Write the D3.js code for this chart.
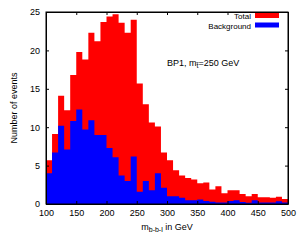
<!DOCTYPE html>
<html>
<head>
<meta charset="utf-8">
<script src="https://cdn.jsdelivr.net/npm/d3@7"></script>
<style>
  body { margin: 0; background: #fff; }
  svg { display: block; font-family: "Liberation Sans", Arial, sans-serif; }
  .axis text { font-size: 9px; fill: #000; }
  .axis path, .axis line { stroke: #000; }
</style>
</head>
<body>
<script>
const width = 300, height = 245
const margin = { top: 12, right: 12, bottom: 41, left: 46 }

// lower edges of the 10 GeV bins, 100..490
const binStart = d3.range(100, 500, 10)

// Total (signal + background), events per bin
const total = [5.7, 9.1, 14.1, 12.2, 16.8, 19.8, 18.8, 22.3, 21.2, 23.7,
    24.4, 24.7, 23.6, 22.3, 24.0, 15.7, 13.0, 10.6, 10.1, 6.7,
    5.7, 4.4, 3.7, 3.4, 3.2, 2.7, 2.8, 1.9, 2.3, 1.4,
    1.8, 1.8, 1.3, 1.0, 1.3, 0.87, 0.87, 0.8, 0.96, 0.65]

// Background only
const background = [4.0, 6.7, 10.2, 7.1, 10.8, 12.3, 9.7, 10.9, 9.0, 9.0,
    7.3, 6.1, 3.7, 3.0, 6.2, 1.6, 3.0, 1.8, 4.0, 2.1,
    1.0, 1.0, 0.8, 0.5, 0.5, 0.6, 0.4, 0.3, 0.2, 0.2,
    0.4, 0.5, 0.26, 0.17, 0.48, 0.2, 0.2, 0.2, 0.35, 0.2]

const xTicks = [100, 150, 200, 250, 300, 350, 400, 450, 500]
const yTicks = [0, 5, 10, 15, 20, 25]

const svg = d3.select("body").append("svg")
    .attr("width", width)
    .attr("height", height)

const x = d3.scaleLinear().domain([100, 500]).range([margin.left, width - margin.right])
const y = d3.scaleLinear().domain([0, 25]).range([height - margin.bottom, margin.top])

function steps(vals) {
    const pts = binStart.map((b, i) => [b, vals[i]])
    pts.push([500, vals[vals.length - 1]])
    return pts
}

const area = d3.area()
    .x(d => x(d[0]))
    .y0(y(0))
    .y1(d => y(d[1]))
    .curve(d3.curveStepAfter)

svg.append("path")
    .datum(steps(total))
    .attr("fill", "#ff0000")
    .attr("d", area)

svg.append("path")
    .datum(steps(background))
    .attr("fill", "#0000ff")
    .attr("d", area)

// axes: ticks inside, mirrored on top and right
const tl = 3
svg.append("g").attr("class", "axis")
    .attr("transform", `translate(0,${y(0)})`)
    .call(d3.axisBottom(x).tickValues(xTicks).tickSizeInner(-tl).tickSizeOuter(0).tickPadding(6))
svg.append("g").attr("class", "axis")
    .attr("transform", `translate(0,${y(25)})`)
    .call(d3.axisTop(x).tickValues(xTicks).tickSizeInner(-tl).tickSizeOuter(0).tickFormat(""))
svg.append("g").attr("class", "axis")
    .attr("transform", `translate(${x(100)},0)`)
    .call(d3.axisLeft(y).tickValues(yTicks).tickSizeInner(-tl).tickSizeOuter(0).tickPadding(6))
svg.append("g").attr("class", "axis")
    .attr("transform", `translate(${x(500)},0)`)
    .call(d3.axisRight(y).tickValues(yTicks).tickSizeInner(-tl).tickSizeOuter(0).tickFormat(""))

svg.append("rect")
    .attr("x", x(100)).attr("y", y(25))
    .attr("width", x(500) - x(100)).attr("height", y(0) - y(25))
    .attr("fill", "none").attr("stroke", "#000").attr("stroke-width", 1)

// axis titles
svg.append("text")
    .attr("transform", `translate(17,${(y(0) + y(25)) / 2}) rotate(-90)`)
    .attr("text-anchor", "middle")
    .style("font-size", "9px")
    .text("Number of events")

const xl = svg.append("text")
    .attr("x", (x(100) + x(500)) / 2)
    .attr("y", 230)
    .attr("text-anchor", "middle")
    .style("font-size", "9px")
xl.append("tspan").text("m")
xl.append("tspan").attr("dy", 2).style("font-size", "7px").text("b-b-l")
xl.append("tspan").attr("dy", -2).text(" in GeV")

// legend
const legend = [["Total", "#ff0000"], ["Background", "#0000ff"]]
legend.forEach((l, i) => {
    const ly = 19 + i * 9.5
    svg.append("text")
        .attr("x", 251).attr("y", ly)
        .attr("text-anchor", "end")
        .style("font-size", "8px")
        .text(l[0])
    svg.append("rect")
        .attr("x", 255).attr("y", ly - 6)
        .attr("width", 24).attr("height", 5)
        .attr("fill", l[1])
})

// annotation
const ann = svg.append("text")
    .attr("x", 167).attr("y", 66)
    .style("font-size", "9px")
ann.append("tspan").text("BP1, m")
ann.append("tspan").attr("dy", 2).style("font-size", "7px").text("t\u0303")
ann.append("tspan").attr("dy", -2).text("=250 GeV")
</script>
</body>
</html>
